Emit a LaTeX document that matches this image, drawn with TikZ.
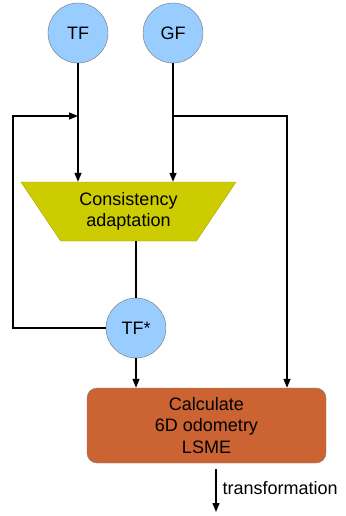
\documentclass[tikz,border=0pt]{standalone}
\usepackage{fontspec}
\setmainfont{Liberation Sans}
\usetikzlibrary{shapes.geometric,arrows.meta}
\definecolor{frameblue}{RGB}{153,204,255}
\definecolor{adaptyellow}{RGB}{204,204,0}
\definecolor{calcorange}{RGB}{204,99,51}
\tikzset{
    frame/.style={circle, draw=black!55, fill=frameblue, minimum size=60pt, inner sep=0pt},
    adaptbox/.style={trapezium, shape border rotate=180, trapezium left angle=48.6,
        trapezium right angle=48.6, trapezium stretches body, minimum width=215pt,
        minimum height=59pt, fill=adaptyellow, draw=adaptyellow!80!black, align=center},
    calcbox/.style={rectangle, rounded corners=10pt, draw=black!50, fill=calcorange,
        minimum width=239pt, minimum height=75pt, align=center},
    flow/.style={line width=1.3pt, -{Triangle[length=9pt,width=7pt]}},
    plain/.style={line width=1.3pt}
}
\begin{document}
\begin{tikzpicture}[x=1pt, y=-1pt, font=\fontsize{18}{21.5}\selectfont]
    \useasboundingbox (0,0) rectangle (345,516);
    % Draw the frames
    \node[frame] (tf) at (78,33) {TF};
    \node[frame] (gf) at (173,33) {GF};
    \node[frame] (tfs) at (136,328) {TF*};
    % Draw the processing blocks
    \node[adaptbox] (adapt) at (128.5,211.5) {Consistency\\adaptation};
    \node[calcbox] (calc) at (206.5,425.5) {Calculate\\6D odometry\\LSME};
    % Corner points of the loops
    \coordinate (tfjoin) at (78,116);
    \coordinate (gfjoin) at (173,116);
    \coordinate (loopcorner) at (13,116);
    \coordinate (gfcorner) at (287,116);
    \coordinate (outstart) at (216,469);
    \coordinate (outend) at (216,512);
    % Draw the edges
    \draw[flow] (tf.south) -- (tf.south |- adapt.north);
    \draw[flow] (gf.south) -- (gf.south |- adapt.north);
    \draw[plain] (adapt.south -| tfs) -- (tfs.north);
    \draw[flow] (tfs.west) -| (loopcorner) -- (tfjoin); % feedback loop
    \draw[flow] (gfjoin) -- (gfcorner) -- (gfcorner |- calc.north);
    \draw[flow] (tfs.south) -- (tfs.south |- calc.north);
    \draw[flow] (outstart) -- (outend) node[pos=0.45, anchor=west, inner sep=6pt] (outlabel) {transformation};
\end{tikzpicture}
\end{document}
